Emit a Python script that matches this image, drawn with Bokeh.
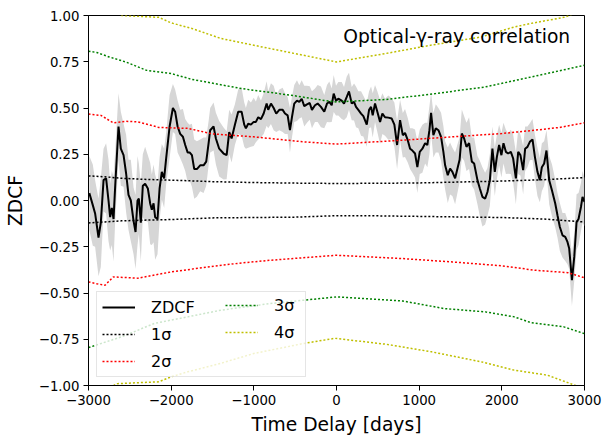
from bokeh.plotting import figure
from bokeh.models import Label, FixedTicker, CustomJSTickFormatter, Range1d, Legend, LegendItem
from bokeh.embed import file_html
from bokeh.resources import INLINE

# ---------------- data ----------------
lag = [-2990, -2948, -2920, -2879, -2851, -2818, -2787, -2758, -2738, -2718,
       -2697, -2678, -2637, -2609, -2576, -2545, -2516, -2488, -2455, -2431,
       -2407, -2391, -2367, -2343, -2315, -2282, -2254, -2234, -2213, -2194,
       -2165, -2140, -2113, -2085, -2060, -2019, -1979, -1952, -1922, -1891,
       -1858, -1830, -1801, -1777, -1749, -1721, -1689, -1649, -1608, -1576,
       -1547, -1528, -1487, -1459, -1419, -1366, -1329, -1298, -1269, -1229,
       -1189, -1148, -1116, -1096, -1068, -1035, -1002, -975, -947, -914,
       -881, -845, -826, -793, -760, -729, -692, -651, -623, -591,
       -563, -539, -511, -478, -450, -421, -390, -357, -324, -297,
       -260, -228, -188, -148, -115, -87, -58, -34, -6, 22,
       63, 91, 124, 151, 184, 212, 236, 264, 297, 325,
       366, 394, 418, 438, 466, 494, 527, 555, 587, 627,
       668, 700, 733, 769, 802, 829, 862, 890, 918, 950,
       978, 1007, 1039, 1072, 1099, 1124, 1144, 1172, 1201, 1233,
       1265, 1293, 1314, 1346, 1374, 1402, 1435, 1467, 1489, 1516,
       1544, 1572, 1604, 1637, 1665, 1705, 1734, 1765, 1798, 1826,
       1855, 1886, 1915, 1940, 1967, 1995, 2020, 2049, 2076, 2109,
       2137, 2170, 2198, 2225, 2258, 2282, 2310, 2339, 2371, 2400,
       2431, 2460, 2484, 2512, 2540, 2573, 2606, 2646, 2673, 2702,
       2734, 2767, 2794, 2815, 2848, 2876, 2904, 2928, 2957, 2976,
       3000]
zdcf = [0.04, -0.025, -0.07, -0.20, -0.12, 0.11, 0.12, 0.0, -0.09, -0.04,
        -0.10, 0.07, 0.40, 0.28, 0.245, 0.146, 0.03, 0.0, -0.11, -0.17,
        0.0, 0.01, -0.12, 0.08, 0.09, 0.065, -0.016, -0.05, -0.015, -0.09,
        -0.10, 0.065, 0.155, 0.12, 0.23, 0.40, 0.50, 0.48, 0.40, 0.36,
        0.345, 0.30, 0.26, 0.26, 0.245, 0.17, 0.17, 0.19, 0.19, 0.21,
        0.31, 0.38, 0.40, 0.335, 0.28, 0.254, 0.245, 0.37, 0.335, 0.41,
        0.48, 0.48, 0.41, 0.39, 0.415, 0.41, 0.425, 0.425, 0.45, 0.44,
        0.47, 0.524, 0.49, 0.524, 0.50, 0.47, 0.49, 0.49, 0.47, 0.46,
        0.38, 0.45, 0.524, 0.54, 0.533, 0.55, 0.51, 0.52, 0.527, 0.49,
        0.515, 0.524, 0.506, 0.48, 0.524, 0.533, 0.515, 0.578, 0.54, 0.55,
        0.54, 0.524, 0.56, 0.59, 0.524, 0.533, 0.506, 0.49, 0.47, 0.456,
        0.41, 0.49, 0.506, 0.46, 0.524, 0.48, 0.425, 0.47, 0.45, 0.448,
        0.443, 0.41, 0.30, 0.434, 0.353, 0.365, 0.326, 0.28, 0.27, 0.254,
        0.18, 0.263, 0.28, 0.31, 0.30, 0.38, 0.474, 0.353, 0.39, 0.38,
        0.344, 0.263, 0.19, 0.137, 0.173, 0.155, 0.12, 0.18, 0.22, 0.362,
        0.335, 0.29, 0.31, 0.21, 0.20, 0.11, 0.065, 0.02, 0.01, 0.046,
        0.11, 0.28, 0.155, 0.236, 0.30, 0.245, 0.31, 0.263, 0.254, 0.263,
        0.227, 0.12, 0.263, 0.245, 0.164, 0.28, 0.29, 0.317, 0.33, 0.236,
        0.155, 0.11, 0.18, 0.20, 0.27, 0.11, 0.056, -0.016, -0.08, -0.143,
        -0.188, -0.197, -0.224, -0.26, -0.43, -0.305, -0.116, -0.10, -0.035, 0.02,
        -0.008]
zdcf_err = [0.20, 0.22, 0.18, 0.21, 0.24, 0.17, 0.19, 0.22, 0.18, 0.20,
            0.23, 0.19, 0.18, 0.20, 0.17, 0.21, 0.19, 0.22, 0.18, 0.20,
            0.24, 0.19, 0.21, 0.17, 0.20, 0.18, 0.22, 0.19, 0.21, 0.23,
            0.19, 0.17, 0.15, 0.16, 0.14, 0.17, 0.13, 0.12, 0.14, 0.13,
            0.15, 0.14, 0.16, 0.15, 0.17, 0.16, 0.15, 0.14, 0.15, 0.13,
            0.12, 0.12, 0.13, 0.14, 0.15, 0.14, 0.13, 0.12, 0.13, 0.11,
            0.12, 0.13, 0.12, 0.11, 0.13, 0.12, 0.13, 0.11, 0.12, 0.10,
            0.11, 0.12, 0.10, 0.11, 0.12, 0.10, 0.11, 0.12, 0.11, 0.10,
            0.12, 0.11, 0.10, 0.11, 0.09, 0.10, 0.11, 0.10, 0.09, 0.10,
            0.09, 0.10, 0.11, 0.09, 0.10, 0.11, 0.09, 0.10, 0.08, 0.09,
            0.10, 0.09, 0.11, 0.10, 0.09, 0.10, 0.11, 0.10, 0.12, 0.11,
            0.12, 0.10, 0.11, 0.12, 0.10, 0.11, 0.12, 0.11, 0.10, 0.12,
            0.11, 0.12, 0.13, 0.11, 0.12, 0.13, 0.12, 0.11, 0.12, 0.13,
            0.14, 0.12, 0.13, 0.11, 0.12, 0.13, 0.11, 0.12, 0.13, 0.12,
            0.13, 0.14, 0.13, 0.15, 0.14, 0.13, 0.14, 0.13, 0.12, 0.13,
            0.12, 0.13, 0.14, 0.13, 0.14, 0.13, 0.15, 0.16, 0.14, 0.13,
            0.14, 0.12, 0.13, 0.12, 0.11, 0.12, 0.11, 0.12, 0.11, 0.12,
            0.13, 0.14, 0.12, 0.11, 0.13, 0.12, 0.11, 0.10, 0.11, 0.12,
            0.13, 0.12, 0.13, 0.12, 0.11, 0.13, 0.14, 0.13, 0.12, 0.13,
            0.12, 0.13, 0.12, 0.11, 0.14, 0.13, 0.15, 0.14, 0.13, 0.14,
            0.13]

# significance levels (upper and lower)
s1_up_lag = [-3000, -2800, -2600, -2300, -2000, -1500, -1000, -500, 0, 500, 1000, 1500, 2000, 2500, 3000]
s1_up = [0.133, 0.128, 0.120, 0.114, 0.110, 0.102, 0.097, 0.094, 0.092, 0.093, 0.095, 0.100, 0.105, 0.112, 0.124]
s1_lo_lag = [-3000, -2800, -2600, -2300, -2000, -1500, -1000, -500, 0, 500, 1000, 1500, 2000, 2500, 3000]
s1_lo = [-0.121, -0.116, -0.110, -0.106, -0.103, -0.094, -0.092, -0.090, -0.082, -0.083, -0.086, -0.089, -0.092, -0.100, -0.116]

s2_up_lag = [-3000, -2850, -2700, -2550, -2400, -2150, -1800, -1500, -1000, -400, 0, 200, 800, 1400, 2000, 2400, 2700, 3000]
s2_up = [0.467, 0.460, 0.420, 0.428, 0.425, 0.395, 0.390, 0.360, 0.344, 0.317, 0.305, 0.310, 0.326, 0.344, 0.362, 0.380, 0.395, 0.420]
s2_lo_lag = [-3000, -2900, -2800, -2700, -2400, -2000, -1700, -1200, -800, 0, 800, 1400, 2000, 2400, 2800, 3000]
s2_lo = [-0.440, -0.450, -0.458, -0.413, -0.420, -0.386, -0.368, -0.340, -0.323, -0.296, -0.314, -0.332, -0.353, -0.377, -0.390, -0.418]

s3_up_lag = [-3000, -2900, -2750, -2550, -2300, -2000, -1750, -1150, -550, -150, 0, 600, 1200, 1800, 2400, 3000]
s3_up = [0.807, 0.800, 0.776, 0.749, 0.704, 0.686, 0.655, 0.605, 0.569, 0.541, 0.533, 0.546, 0.578, 0.614, 0.672, 0.731]
s3_lo_lag = [-3000, -2600, -2200, -1800, -1400, -800, 0, 800, 1300, 1800, 2150, 2350, 2750, 3000]
s3_lo = [-0.795, -0.737, -0.664, -0.629, -0.593, -0.557, -0.521, -0.543, -0.584, -0.602, -0.629, -0.660, -0.683, -0.720]

s4_up_lag = [-3000, -2700, -2600, -2150, -2000, -1750, -1400, -900, -400, 0, 600, 1150, 1750, 2150, 2350, 2750, 3000]
s4_up = [1.08, 1.03, 1.00, 0.99, 0.96, 0.93, 0.876, 0.83, 0.785, 0.749, 0.795, 0.84, 0.884, 0.938, 0.957, 0.99, 1.03]
s4_lo_lag = [-3000, -2650, -2150, -2000, -1800, -1400, -1000, -400, -20, 600, 1150, 1750, 2150, 2550, 2850, 3000]
s4_lo = [-1.07, -0.99, -0.98, -0.953, -0.926, -0.88, -0.827, -0.773, -0.745, -0.777, -0.818, -0.872, -0.917, -0.944, -0.993, -1.02]

x_ticks = [-3000, -2000, -1000, 0, 1000, 2000, 3000]
y_ticks = [-1.0, -0.75, -0.5, -0.25, 0.0, 0.25, 0.5, 0.75, 1.0]
title_text = "Optical-γ-ray correlation"

# ---------------- figure ----------------
FONT = "DejaVu Sans"
p = figure(width=608, height=441, output_backend="svg", toolbar_location=None,
           x_range=Range1d(-3000, 3000), y_range=Range1d(-1, 1),
           min_border_left=88, min_border_right=24, min_border_top=15, min_border_bottom=56)
p.grid.visible = False
p.outline_line_color = "black"
p.outline_line_width = 1
p.background_fill_color = "white"

lower = [v - e for v, e in zip(zdcf, zdcf_err)]
upper = [v + e for v, e in zip(zdcf, zdcf_err)]
p.varea(x=lag, y1=lower, y2=upper, fill_color="#d6d6d6", fill_alpha=1.0)

r_z = p.line(lag, zdcf, line_color="black", line_width=2)

dash = "2 2"
lw = 1.5
r1 = p.line(s1_up_lag, s1_up, line_color="black", line_width=lw, line_dash=dash)
p.line(s1_lo_lag, s1_lo, line_color="black", line_width=lw, line_dash=dash)
r2 = p.line(s2_up_lag, s2_up, line_color="#ff0000", line_width=lw, line_dash=dash)
p.line(s2_lo_lag, s2_lo, line_color="#ff0000", line_width=lw, line_dash=dash)
r3 = p.line(s3_up_lag, s3_up, line_color="#008000", line_width=lw, line_dash=dash)
p.line(s3_lo_lag, s3_lo, line_color="#008000", line_width=lw, line_dash=dash)
r4 = p.line(s4_up_lag, s4_up, line_color="#bfbf00", line_width=lw, line_dash=dash)
p.line(s4_lo_lag, s4_lo, line_color="#bfbf00", line_width=lw, line_dash=dash)

p.add_layout(Label(x=2827, y=0.887, text=title_text, text_align="right",
                   text_baseline="alphabetic", text_font=FONT,
                   text_font_size="18.7px", text_color="black"))

# axes
for ax in (p.xaxis[0], p.yaxis[0]):
    ax.major_label_text_font = FONT
    ax.major_label_text_font_size = "13.3px"
    ax.major_label_text_color = "black"
    ax.axis_label_text_font = FONT
    ax.axis_label_text_font_size = "18.7px"
    ax.axis_label_text_font_style = "normal"
    ax.axis_label_text_color = "black"
    ax.axis_line_color = "black"
    ax.major_tick_line_color = "black"
    ax.major_tick_out = 5
    ax.major_tick_in = 0
    ax.minor_tick_line_color = None
    ax.major_label_standoff = 4

p.xaxis.ticker = FixedTicker(ticks=x_ticks)
p.yaxis.ticker = FixedTicker(ticks=y_ticks)
p.xaxis.formatter = CustomJSTickFormatter(code="return tick.toFixed(0).replace('-', '\u2212');")
p.yaxis.formatter = CustomJSTickFormatter(code="return tick.toFixed(2).replace('-', '\u2212');")
p.xaxis.axis_label = "Time Delay [days]"
p.yaxis.axis_label = "ZDCF"
p.xaxis.axis_label_standoff = 6
p.yaxis.axis_label_standoff = 10


def style_legend(leg):
    leg.label_text_font = FONT
    leg.label_text_font_size = "16px"
    leg.label_text_color = "black"
    leg.glyph_width = 33
    leg.glyph_height = 20
    leg.label_height = 20
    leg.label_standoff = 16
    leg.spacing = 7
    leg.padding = 5
    leg.margin = 0


# first column (carries the frame of the legend box)
leg1 = Legend(items=[LegendItem(label="ZDCF", renderers=[r_z]),
                     LegendItem(label="1σ", renderers=[r1]),
                     LegendItem(label="2σ", renderers=[r2])],
              location=(8, 8))
style_legend(leg1)
leg1.label_width = 149
leg1.border_line_color = "#cccccc"
leg1.border_line_width = 1
leg1.background_fill_color = "white"
leg1.background_fill_alpha = 0.8
p.add_layout(leg1)

# second column, drawn inside the same box
leg2 = Legend(items=[LegendItem(label="3σ", renderers=[r3]),
                     LegendItem(label="4σ", renderers=[r4])],
              location=(137, 43))
style_legend(leg2)
leg2.border_line_color = None
leg2.background_fill_color = None
leg2.background_fill_alpha = 0
p.add_layout(leg2)

open("out.html", "w", encoding="utf-8").write(file_html(p, INLINE))
